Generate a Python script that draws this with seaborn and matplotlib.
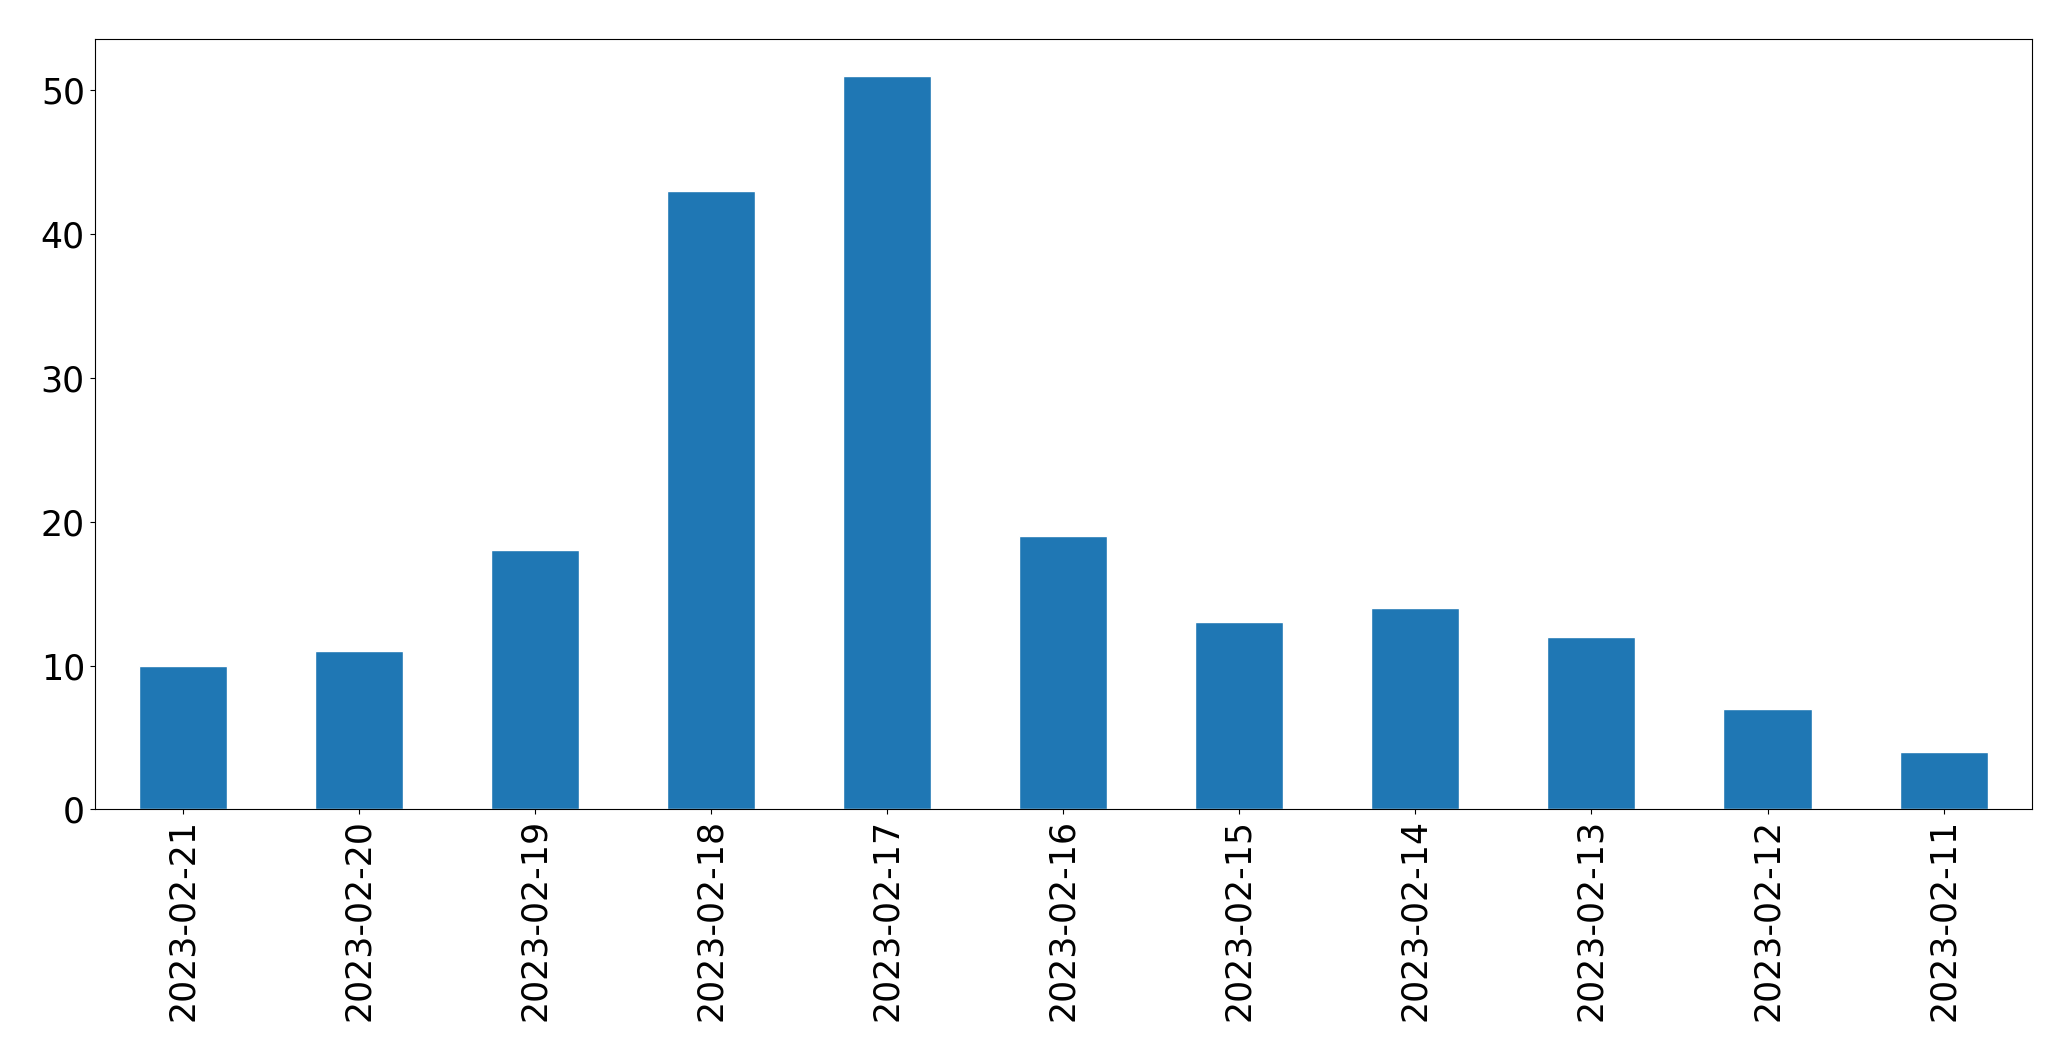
import matplotlib
matplotlib.use("Agg")
import matplotlib.pyplot as plt
import seaborn as sns
import pandas as pd

# Daily counts, newest first (as in the reference)
dates = ["2023-02-21", "2023-02-20", "2023-02-19", "2023-02-18", "2023-02-17",
         "2023-02-16", "2023-02-15", "2023-02-14", "2023-02-13", "2023-02-12",
         "2023-02-11"]
counts = [10, 11, 18, 43, 51, 19, 13, 14, 12, 7, 4]

df = pd.DataFrame({"date": dates, "count": counts})

sns.set_style("white")
plt.rcParams["font.family"] = ["DejaVu Sans"]
plt.rcParams["text.color"] = "black"
plt.rcParams["xtick.color"] = "black"
plt.rcParams["ytick.color"] = "black"
plt.rcParams["axes.edgecolor"] = "black"

fig, ax = plt.subplots(figsize=(20.71, 10.61), dpi=100)
fig.subplots_adjust(left=0.0457, right=0.981, top=0.963, bottom=0.2372)

sns.barplot(data=df, x="date", y="count", order=dates, color="#1f77b4",
            saturation=1, width=0.5, ax=ax)

ax.set_xlim(-0.5, len(dates) - 0.5)
ax.set_ylim(0, max(counts) * 1.05)
ax.set_xlabel("")
ax.set_ylabel("")
ax.tick_params(axis="x", labelrotation=90, labelsize=25, length=3.5, width=0.8,
               bottom=True, colors="black")
ax.tick_params(axis="y", labelsize=25, length=3.5, width=0.8, left=True,
               colors="black")
for s in ax.spines.values():
    s.set_color("black")
    s.set_linewidth(0.8)

fig.savefig("out.png", dpi=100)
